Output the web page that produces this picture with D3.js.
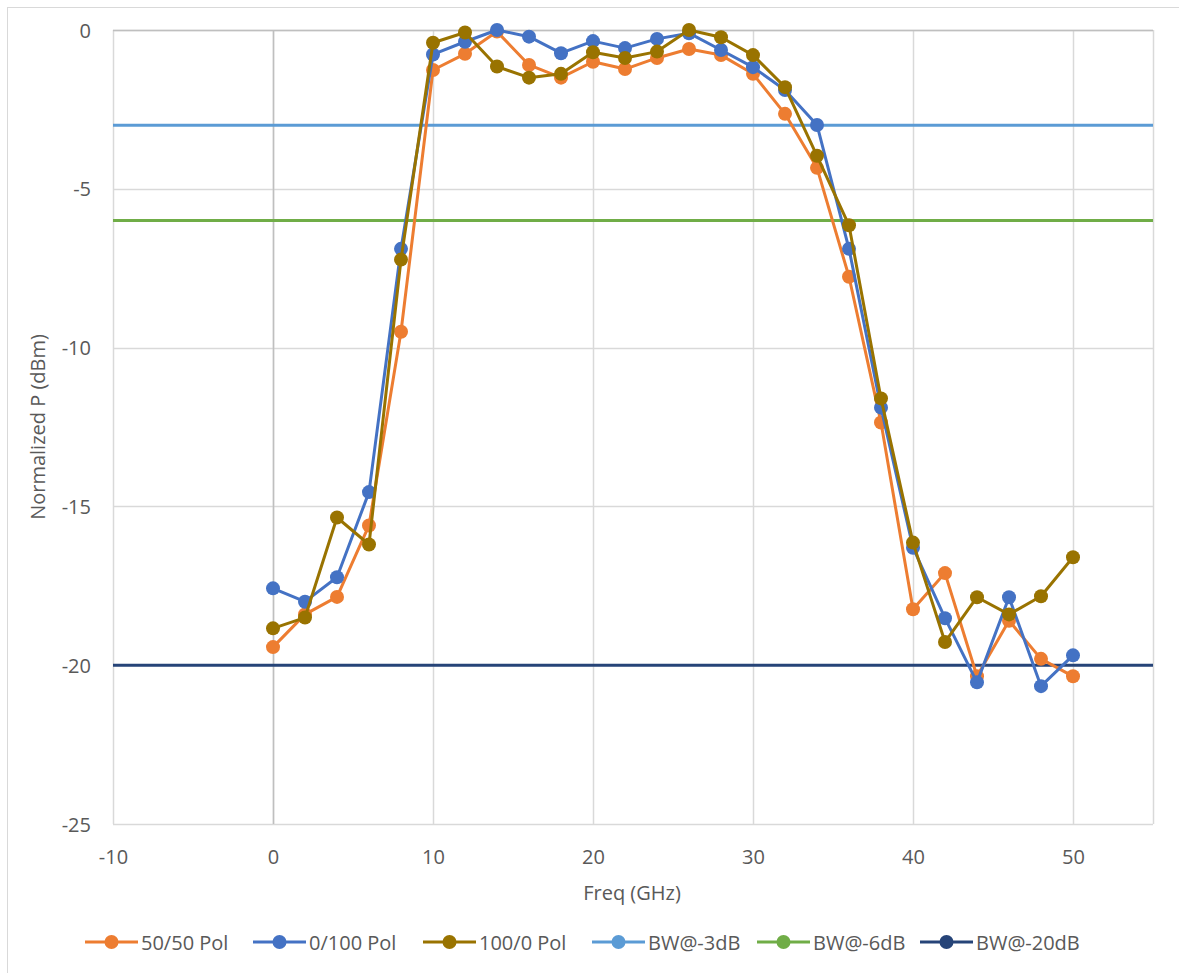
<!DOCTYPE html>
<html>
<head>
<meta charset="utf-8">
<script src="https://cdn.jsdelivr.net/npm/d3@7/dist/d3.min.js"></script>
<style>
  html, body { margin: 0; padding: 0; background: #fff; }
  svg { display: block; }
  text { font-family: "Open Sans", "Noto Sans", sans-serif; fill: #595959; }
</style>
</head>
<body>
<script>
// Frequency sweep points (GHz)
const freq = [0, 2, 4, 6, 8, 10, 12, 14, 16, 18, 20, 22, 24, 26, 28, 30, 32, 34, 36, 38, 40, 42, 44, 46, 48, 50];

// Normalized power (dBm) per polarization mix
const pol5050 = [-19.43, -18.4, -17.85, -15.6, -9.5, -1.26, -0.75, -0.05, -1.1, -1.5, -1.0, -1.23, -0.88, -0.6, -0.79, -1.38, -2.64, -4.34, -7.77, -12.36, -18.24, -17.1, -20.35, -18.6, -19.8, -20.35];
const pol0100 = [-17.58, -18.0, -17.23, -14.55, -6.89, -0.77, -0.37, 0.0, -0.21, -0.73, -0.35, -0.57, -0.28, -0.1, -0.63, -1.17, -1.89, -2.99, -6.89, -11.89, -16.3, -18.52, -20.54, -17.86, -20.66, -19.69];
const pol1000 = [-18.84, -18.5, -15.35, -16.2, -7.23, -0.4, -0.08, -1.15, -1.5, -1.38, -0.7, -0.88, -0.68, 0.0, -0.23, -0.79, -1.8, -3.96, -6.15, -11.6, -16.14, -19.27, -17.86, -18.4, -17.83, -16.6];

// Bandwidth reference levels spanning the frequency axis
const bwFreq = [-10, 55];
const bw3 = [-3, -3];
const bw6 = [-6, -6];
const bw20 = [-20, -20];

// Axis ticks
const xTicks = [-10, 0, 10, 20, 30, 40, 50];
const yTicks = [0, -5, -10, -15, -20, -25];

const series = [
  { name: "50/50 Pol", x: freq, y: pol5050, color: "#ED7D31", markers: true },
  { name: "0/100 Pol", x: freq, y: pol0100, color: "#4472C4", markers: true },
  { name: "100/0 Pol", x: freq, y: pol1000, color: "#997300", markers: true },
  { name: "BW@-3dB", x: bwFreq, y: bw3, color: "#5B9BD5", markers: false },
  { name: "BW@-6dB", x: bwFreq, y: bw6, color: "#70AD47", markers: false },
  { name: "BW@-20dB", x: bwFreq, y: bw20, color: "#264478", markers: false }
];

const W = 1179, H = 973;
const plot = { left: 113, right: 1153, top: 30, bottom: 824 };
const FONT = "20px";

const svg = d3.select("body").append("svg").attr("width", W).attr("height", H);

// chart frame
svg.append("rect").attr("x", 7.5).attr("y", 7.5).attr("width", W).attr("height", H)
  .attr("fill", "#fff").attr("stroke", "#d9d9d9").attr("stroke-width", 1);

const x = d3.scaleLinear().domain([-10, 55]).range([plot.left, plot.right]);
const y = d3.scaleLinear().domain([-25, 0]).range([plot.bottom, plot.top]);

// gridlines
const grid = svg.append("g");
grid.selectAll("line.v").data(xTicks.concat([55])).join("line")
  .attr("x1", d => Math.round(x(d)) + 0.5).attr("x2", d => Math.round(x(d)) + 0.5)
  .attr("y1", plot.top).attr("y2", plot.bottom)
  .attr("stroke", "#d9d9d9").attr("stroke-width", 1.5);
grid.selectAll("line.h").data(yTicks).join("line")
  .attr("y1", d => Math.round(y(d)) + 0.5).attr("y2", d => Math.round(y(d)) + 0.5)
  .attr("x1", plot.left).attr("x2", plot.right)
  .attr("stroke", "#d9d9d9").attr("stroke-width", 1.5);

// axis lines crossing at the origin
svg.append("line")
  .attr("x1", Math.round(x(0)) + 0.5).attr("x2", Math.round(x(0)) + 0.5)
  .attr("y1", plot.top).attr("y2", plot.bottom)
  .attr("stroke", "#bfbfbf").attr("stroke-width", 1.5);
svg.append("line")
  .attr("x1", plot.left).attr("x2", plot.right)
  .attr("y1", Math.round(y(0)) + 0.5).attr("y2", Math.round(y(0)) + 0.5)
  .attr("stroke", "#bfbfbf").attr("stroke-width", 1.5);

// tick labels (placed at the low side of the plot)
const fmt = d => String(d);
const xAxis = d3.axisBottom(x).tickValues(xTicks).tickSize(0).tickPadding(0).tickFormat(fmt);
const gx = svg.append("g").attr("transform", `translate(0,${plot.bottom + 33})`).call(xAxis);
gx.select(".domain").remove();
gx.selectAll("text").attr("dy", "0.35em").style("font-size", FONT).attr("fill", "#595959");

const yAxis = d3.axisLeft(y).tickValues(yTicks).tickSize(0).tickPadding(0).tickFormat(fmt);
const gy = svg.append("g").attr("transform", `translate(${plot.left - 22},0)`).call(yAxis);
gy.select(".domain").remove();
gy.selectAll("text").attr("dy", "0.35em").style("font-size", FONT).attr("fill", "#595959");

// axis titles
svg.append("text").attr("x", 632).attr("y", 892).attr("text-anchor", "middle")
  .attr("dominant-baseline", "central").style("font-size", FONT).text("Freq (GHz)");
svg.append("text").attr("transform", "translate(37,427) rotate(-90)").attr("text-anchor", "middle")
  .attr("dominant-baseline", "central").style("font-size", FONT).text("Normalized P (dBm)");

const line = d3.line().x(d => x(d[0])).y(d => y(d[1]));

// reference levels first, then the measured sweeps on top
const order = series.filter(s => !s.markers).concat(series.filter(s => s.markers));
order.forEach(s => {
  const pts = s.x.map((v, i) => [v, s.y[i]]);
  const g = svg.append("g");
  g.append("path").datum(pts).attr("d", line)
    .attr("fill", "none").attr("stroke", s.color).attr("stroke-width", 3)
    .attr("stroke-linejoin", "round");
  if (s.markers) {
    g.selectAll("circle").data(pts).join("circle")
      .attr("cx", d => x(d[0])).attr("cy", d => y(d[1])).attr("r", 7)
      .attr("fill", s.color);
  }
});

// legend
const legendX = [85, 253, 423, 592, 757, 920];
const legend = svg.append("g");
series.forEach((s, i) => {
  const g = legend.append("g").attr("transform", `translate(${legendX[i]},942)`);
  g.append("line").attr("x1", 0).attr("x2", 53).attr("y1", 0).attr("y2", 0)
    .attr("stroke", s.color).attr("stroke-width", 3);
  g.append("circle").attr("cx", 26.5).attr("cy", 0).attr("r", 7).attr("fill", s.color);
  g.append("text").attr("x", 56).attr("y", 0).attr("dominant-baseline", "central")
    .style("font-size", FONT).text(s.name);
});
</script>
</body>
</html>
